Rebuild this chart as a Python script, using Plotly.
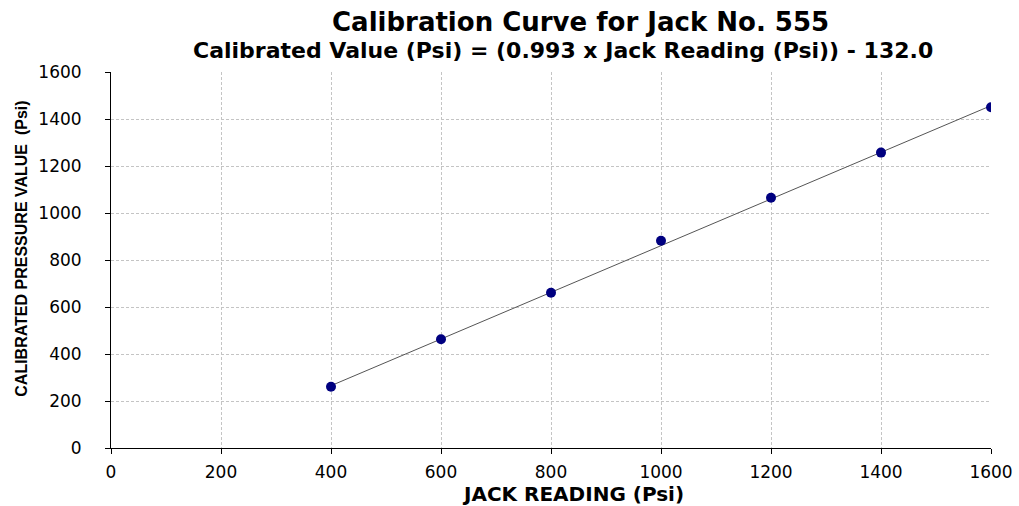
import plotly.graph_objects as go

jack_reading = [400, 600, 800, 1000, 1200, 1400, 1600]
calibrated_value = [261, 463, 661, 882, 1065, 1257, 1450]
slope = 0.993
intercept = -132.0
fit_x = [400, 1600]
fit_y = [slope * x + intercept for x in fit_x]

fig = go.Figure()
fig.add_trace(go.Scatter(x=fit_x, y=fit_y, mode="lines",
                         line=dict(color="#555555", width=1), hoverinfo="skip"))
fig.add_trace(go.Scatter(x=jack_reading, y=calibrated_value, mode="markers",
                         marker=dict(color="#000080", size=10, symbol="circle")))

fig.update_layout(
    width=1019, height=506,
    margin=dict(l=111, r=28, t=72, b=58),
    paper_bgcolor="white", plot_bgcolor="white",
    showlegend=False,
    font=dict(family="DejaVu Sans, Arial, sans-serif", color="black"),
)
axis_style = dict(range=[0, 1600], dtick=200, showgrid=True, gridcolor="#c4c4c4",
                  griddash="3px,2px", gridwidth=1, showline=True, linecolor="black",
                  linewidth=1, ticks="outside", ticklen=5, tickcolor="black",
                  tickfont=dict(size=17), zeroline=False, automargin=False)
fig.update_xaxes(**axis_style, ticklabelstandoff=4)
fig.update_yaxes(**axis_style, ticklabelstandoff=20)

fig.add_annotation(text="<b>Calibration Curve for Jack No. 555</b>", xref="paper", yref="paper",
                   x=0.534, y=1, yshift=50, showarrow=False, font=dict(size=26),
                   xanchor="center", yanchor="middle")
fig.add_annotation(text="<b>Calibrated Value (Psi) = (0.993 x Jack Reading (Psi)) - 132.0</b>",
                   xref="paper", yref="paper", x=0.514, y=1, yshift=22, showarrow=False,
                   font=dict(size=22), xanchor="center", yanchor="middle")
fig.add_annotation(text="<b>JACK READING (Psi)</b>", xref="paper", yref="paper",
                   x=0.525, y=0, yshift=-46, showarrow=False, font=dict(size=20),
                   xanchor="center", yanchor="middle")
fig.add_annotation(text="<b>CALIBRATED PRESSURE VALUE  (Psi)</b>", xref="paper", yref="paper",
                   x=0, xshift=-89, y=0.53, showarrow=False, textangle=-90,
                   font=dict(size=16, family="Liberation Sans Narrow, Liberation Sans, Arial, sans-serif"),
                   xanchor="center", yanchor="middle")

fig.write_html("out.html", config={"displayModeBar": False},
               post_script="document.body.style.margin='0';document.body.style.overflow='hidden';")
